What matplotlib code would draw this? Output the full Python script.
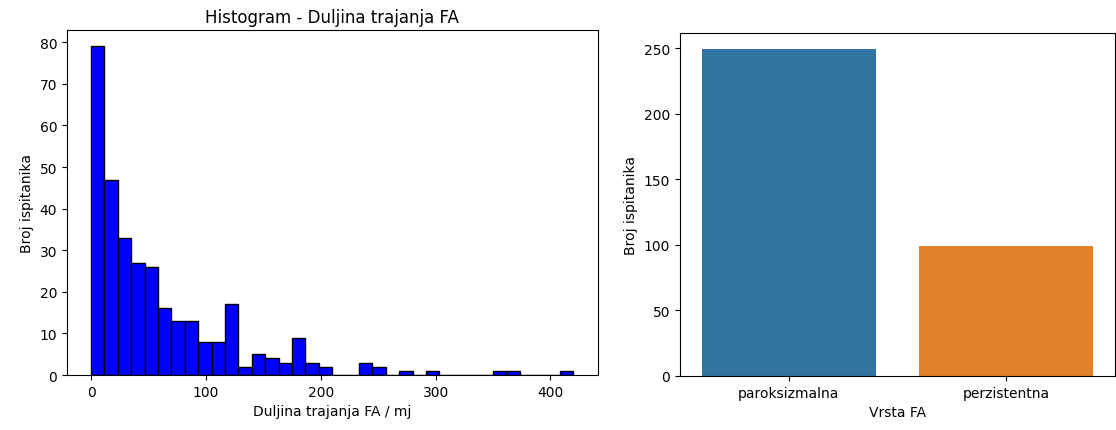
import numpy as np
import matplotlib
matplotlib.use('Agg')
import matplotlib.pyplot as plt

# histogram podaci - broj ispitanika po binu (36 binova, 0-420 mj)
bin_edges = np.linspace(0, 420, 37)
counts = [79, 47, 33, 27, 26, 16, 13, 13, 8, 8, 17, 2, 5, 4, 3, 9, 3, 2,
          0, 0, 3, 2, 0, 1, 0, 1, 0, 0, 0, 0, 1, 1, 0, 0, 0, 1]

# vrsta FA
vrsta = ['paroksizmalna', 'perzistentna']
broj = [249, 99]
boje = ['#3274a1', '#e1812c']

fig = plt.figure(figsize=(11.16, 4.31), dpi=100)

# lijevi graf - histogram
ax1 = fig.add_axes([0.060, 0.1276, 0.4754, 0.8005])
ax1.hist(bin_edges[:-1], bins=bin_edges, weights=counts, color='blue', edgecolor='black')
ax1.set_title('Histogram - Duljina trajanja FA')
ax1.set_xlabel('Duljina trajanja FA / mj')
ax1.set_ylabel('Broj ispitanika')

# desni graf - vrsta FA
ax2 = fig.add_axes([0.6093, 0.1253, 0.3898, 0.7958])
x = np.arange(len(vrsta))
ax2.bar(x, broj, width=0.8, color=boje)
ax2.set_xticks(x)
ax2.set_xticklabels(vrsta)
ax2.set_xlim(-0.5, 1.5)
ax2.set_xlabel('Vrsta FA')
ax2.set_ylabel('Broj ispitanika')

fig.savefig('out.png', dpi=100)
